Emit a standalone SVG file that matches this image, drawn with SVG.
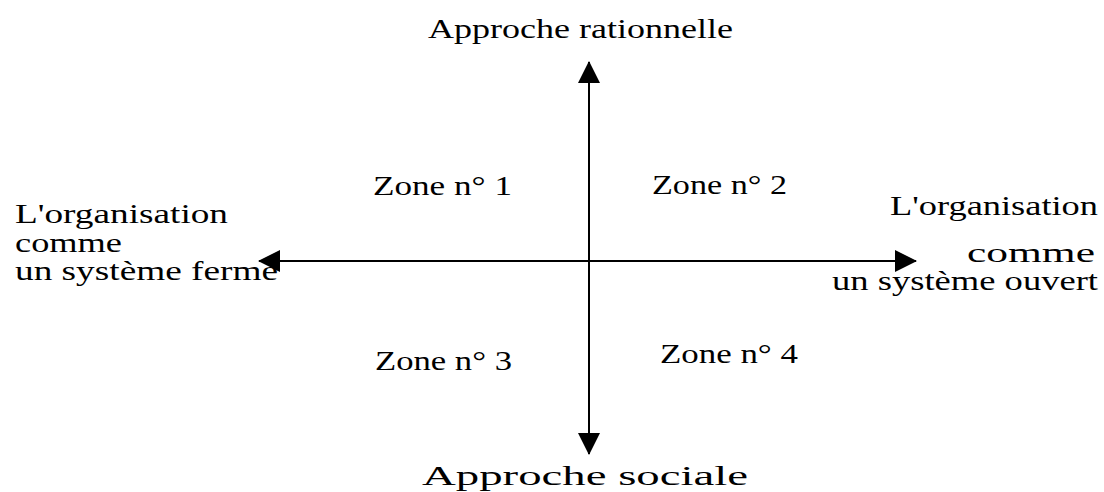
<svg xmlns="http://www.w3.org/2000/svg" width="1104" height="492" viewBox="0 0 1104 492">
<style>
  text { font-family: "Liberation Serif", "Times New Roman", serif; font-size: 28px; fill: #000; }
  .axis { stroke: #000; stroke-width: 2; fill: none; marker-end: url(#head); }
</style>
<defs>
  <marker id="head" markerUnits="userSpaceOnUse" markerWidth="22" markerHeight="22" refX="21" refY="11" orient="auto" viewBox="0 0 22 22">
    <path d="M0,0 L22,11 L0,22 z" fill="#000"/>
  </marker>
</defs>
<rect width="1104" height="492" fill="#fff"/>
<g id="connectors">
  <line class="axis" x1="589" y1="261" x2="589" y2="62"/>
  <line class="axis" x1="589" y1="261" x2="589" y2="454"/>
  <line class="axis" x1="589" y1="261" x2="259" y2="261"/>
  <line class="axis" x1="589" y1="261" x2="916" y2="261"/>
</g>
<g id="top"><text x="428" y="38" textLength="305" lengthAdjust="spacingAndGlyphs">Approche rationnelle</text></g>
<g id="bottom"><text x="422" y="485" textLength="326" lengthAdjust="spacingAndGlyphs">Approche sociale</text></g>
<g id="zone1"><text x="373" y="195" textLength="139" lengthAdjust="spacingAndGlyphs">Zone n° 1</text></g>
<g id="zone2"><text x="652" y="194" textLength="135" lengthAdjust="spacingAndGlyphs">Zone n° 2</text></g>
<g id="zone3"><text x="375" y="370" textLength="137" lengthAdjust="spacingAndGlyphs">Zone n° 3</text></g>
<g id="zone4"><text x="660" y="363" textLength="138" lengthAdjust="spacingAndGlyphs">Zone n° 4</text></g>
<g id="left">
  <text x="15" y="223" textLength="213" lengthAdjust="spacingAndGlyphs">L'organisation</text>
  <text x="15" y="252" textLength="107" lengthAdjust="spacingAndGlyphs">comme</text>
  <text x="15" y="280" textLength="263" lengthAdjust="spacingAndGlyphs">un système fermé</text>
</g>
<g id="right">
  <text x="890" y="215" textLength="208" lengthAdjust="spacingAndGlyphs">L'organisation</text>
  <text x="967" y="262" textLength="128" lengthAdjust="spacingAndGlyphs">comme</text>
  <text x="832" y="290" textLength="266" lengthAdjust="spacingAndGlyphs">un système ouvert</text>
</g>
</svg>
